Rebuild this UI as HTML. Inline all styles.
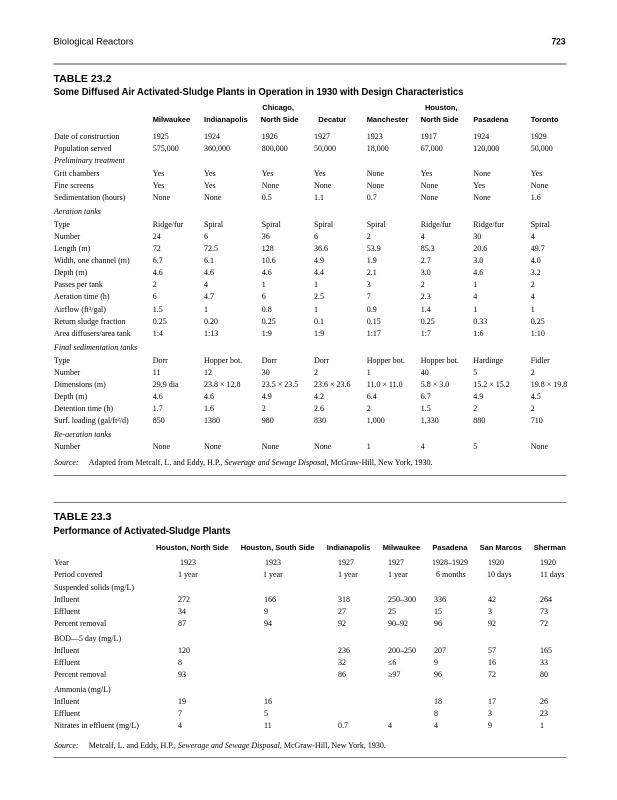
<!DOCTYPE html>
<html>
<head>
<meta charset="utf-8">
<style>
html,body{margin:0;padding:0;background:#fff;}
svg{display:block;}
.s{font-family:"Liberation Serif",serif;font-size:8px;fill:#000;}
.i{font-family:"Liberation Serif",serif;font-size:8px;font-style:italic;fill:#000;}
.h{font-family:"Liberation Sans",sans-serif;font-size:7.5px;font-weight:bold;fill:#000;}
.t{font-family:"Liberation Sans",sans-serif;font-size:10px;font-weight:bold;fill:#000;}
.p{font-family:"Liberation Sans",sans-serif;font-size:9.5px;fill:#000;}
</style>
</head>
<body>
<svg width="617" height="800" viewBox="0 0 617 800" xmlns="http://www.w3.org/2000/svg">
<rect width="617" height="800" fill="#fff"/>
<!-- page header -->
<text class="p" x="53.5" y="44.5" textLength="80" lengthAdjust="spacingAndGlyphs">Biological Reactors</text>
<text class="p" x="551.5" y="44.5" font-weight="bold" textLength="14" lengthAdjust="spacingAndGlyphs">723</text>
<rect x="53.5" y="63" width="513" height="2" fill="#a5a5a5"/>

<!-- TABLE 23.2 -->
<text class="t" x="53.5" y="82" textLength="58" lengthAdjust="spacingAndGlyphs">TABLE 23.2</text>
<text class="t" x="53.5" y="95" textLength="410" lengthAdjust="spacingAndGlyphs">Some Diffused Air Activated-Sludge Plants in Operation in 1930 with Design Characteristics</text>

<text class="h" x="262.3" y="110">Chicago,</text>
<text class="h" x="425" y="110">Houston,</text>
<text class="h" x="152.7" y="122">Milwaukee</text>
<text class="h" x="204" y="122">Indianapolis</text>
<text class="h" x="260.7" y="122">North Side</text>
<text class="h" x="318.3" y="122">Decatur</text>
<text class="h" x="366.7" y="122">Manchester</text>
<text class="h" x="420.7" y="122">North Side</text>
<text class="h" x="473.3" y="122">Pasadena</text>
<text class="h" x="530.7" y="122">Toronto</text>

<g class="s">
<text x="54" y="139">Date of construction</text>
<text x="54" y="151">Population served</text>
<text x="54" y="176">Grit chambers</text>
<text x="54" y="188">Fine screens</text>
<text x="54" y="200">Sedimentation (hours)</text>
<text x="54" y="227">Type</text>
<text x="54" y="239">Number</text>
<text x="54" y="251">Length (m)</text>
<text x="54" y="263">Width, one channel (m)</text>
<text x="54" y="275">Depth (m)</text>
<text x="54" y="287">Passes per tank</text>
<text x="54" y="299">Aeration time (h)</text>
<text x="54" y="312">Airflow (ft³/gal)</text>
<text x="54" y="324">Return sludge fraction</text>
<text x="54" y="336">Area diffusers/area tank</text>
<text x="54" y="363">Type</text>
<text x="54" y="375">Number</text>
<text x="54" y="387">Dimensions (m)</text>
<text x="54" y="399">Depth (m)</text>
<text x="54" y="411">Detention time (h)</text>
<text x="54" y="423">Surf. loading (gal/ft²/d)</text>
<text x="54" y="449">Number</text>
</g>
<g class="i">
<text x="54" y="163">Preliminary treatment</text>
<text x="54" y="214">Aeration tanks</text>
<text x="54" y="350">Final sedimentation tanks</text>
<text x="54" y="437">Re-aeration tanks</text>
</g>

<g class="s">
<text x="152.7" y="139">1925</text><text x="204" y="139">1924</text><text x="261.7" y="139">1926</text><text x="314" y="139">1927</text><text x="366.7" y="139">1923</text><text x="420.7" y="139">1917</text><text x="473.3" y="139">1924</text><text x="530.7" y="139">1929</text>
<text x="152.7" y="151">575,000</text><text x="204" y="151">360,000</text><text x="261.7" y="151">800,000</text><text x="314" y="151">50,000</text><text x="366.7" y="151">18,000</text><text x="420.7" y="151">67,000</text><text x="473.3" y="151">120,000</text><text x="530.7" y="151">50,000</text>
<text x="152.7" y="176">Yes</text><text x="204" y="176">Yes</text><text x="261.7" y="176">Yes</text><text x="314" y="176">Yes</text><text x="366.7" y="176">None</text><text x="420.7" y="176">Yes</text><text x="473.3" y="176">None</text><text x="530.7" y="176">Yes</text>
<text x="152.7" y="188">Yes</text><text x="204" y="188">Yes</text><text x="261.7" y="188">None</text><text x="314" y="188">None</text><text x="366.7" y="188">None</text><text x="420.7" y="188">None</text><text x="473.3" y="188">Yes</text><text x="530.7" y="188">None</text>
<text x="152.7" y="200">None</text><text x="204" y="200">None</text><text x="261.7" y="200">0.5</text><text x="314" y="200">1.1</text><text x="366.7" y="200">0.7</text><text x="420.7" y="200">None</text><text x="473.3" y="200">None</text><text x="530.7" y="200">1.6</text>
<text x="152.7" y="227">Ridge/fur</text><text x="204" y="227">Spiral</text><text x="261.7" y="227">Spiral</text><text x="314" y="227">Spiral</text><text x="366.7" y="227">Spiral</text><text x="420.7" y="227">Ridge/fur</text><text x="473.3" y="227">Ridge/fur</text><text x="530.7" y="227">Spiral</text>
<text x="152.7" y="239">24</text><text x="204" y="239">6</text><text x="261.7" y="239">36</text><text x="314" y="239">6</text><text x="366.7" y="239">2</text><text x="420.7" y="239">4</text><text x="473.3" y="239">30</text><text x="530.7" y="239">4</text>
<text x="152.7" y="251">72</text><text x="204" y="251">72.5</text><text x="261.7" y="251">128</text><text x="314" y="251">36.6</text><text x="366.7" y="251">53.9</text><text x="420.7" y="251">85.3</text><text x="473.3" y="251">20.6</text><text x="530.7" y="251">49.7</text>
<text x="152.7" y="263">6.7</text><text x="204" y="263">6.1</text><text x="261.7" y="263">10.6</text><text x="314" y="263">4.9</text><text x="366.7" y="263">1.9</text><text x="420.7" y="263">2.7</text><text x="473.3" y="263">3.0</text><text x="530.7" y="263">4.0</text>
<text x="152.7" y="275">4.6</text><text x="204" y="275">4.6</text><text x="261.7" y="275">4.6</text><text x="314" y="275">4.4</text><text x="366.7" y="275">2.1</text><text x="420.7" y="275">3.0</text><text x="473.3" y="275">4.6</text><text x="530.7" y="275">3.2</text>
<text x="152.7" y="287">2</text><text x="204" y="287">4</text><text x="261.7" y="287">1</text><text x="314" y="287">1</text><text x="366.7" y="287">3</text><text x="420.7" y="287">2</text><text x="473.3" y="287">1</text><text x="530.7" y="287">2</text>
<text x="152.7" y="299">6</text><text x="204" y="299">4.7</text><text x="261.7" y="299">6</text><text x="314" y="299">2.5</text><text x="366.7" y="299">7</text><text x="420.7" y="299">2.3</text><text x="473.3" y="299">4</text><text x="530.7" y="299">4</text>
<text x="152.7" y="312">1.5</text><text x="204" y="312">1</text><text x="261.7" y="312">0.8</text><text x="314" y="312">1</text><text x="366.7" y="312">0.9</text><text x="420.7" y="312">1.4</text><text x="473.3" y="312">1</text><text x="530.7" y="312">1</text>
<text x="152.7" y="324">0.25</text><text x="204" y="324">0.20</text><text x="261.7" y="324">0.25</text><text x="314" y="324">0.1</text><text x="366.7" y="324">0.15</text><text x="420.7" y="324">0.25</text><text x="473.3" y="324">0.33</text><text x="530.7" y="324">0.25</text>
<text x="152.7" y="336">1:4</text><text x="204" y="336">1:13</text><text x="261.7" y="336">1:9</text><text x="314" y="336">1:9</text><text x="366.7" y="336">1:17</text><text x="420.7" y="336">1:7</text><text x="473.3" y="336">1:6</text><text x="530.7" y="336">1:10</text>
<text x="152.7" y="363">Dorr</text><text x="204" y="363">Hopper bot.</text><text x="261.7" y="363">Dorr</text><text x="314" y="363">Dorr</text><text x="366.7" y="363">Hopper bot.</text><text x="420.7" y="363">Hopper bot.</text><text x="473.3" y="363">Hardinge</text><text x="530.7" y="363">Fidler</text>
<text x="152.7" y="375">11</text><text x="204" y="375">12</text><text x="261.7" y="375">30</text><text x="314" y="375">2</text><text x="366.7" y="375">1</text><text x="420.7" y="375">40</text><text x="473.3" y="375">5</text><text x="530.7" y="375">2</text>
<text x="152.7" y="387">29.9 dia</text><text x="204" y="387">23.8 × 12.8</text><text x="261.7" y="387">23.5 × 23.5</text><text x="314" y="387">23.6 × 23.6</text><text x="366.7" y="387">11.0 × 11.0</text><text x="420.7" y="387">5.8 × 3.0</text><text x="473.3" y="387">15.2 × 15.2</text><text x="530.7" y="387">19.8 × 19.8</text>
<text x="152.7" y="399">4.6</text><text x="204" y="399">4.6</text><text x="261.7" y="399">4.9</text><text x="314" y="399">4.2</text><text x="366.7" y="399">6.4</text><text x="420.7" y="399">6.7</text><text x="473.3" y="399">4.9</text><text x="530.7" y="399">4.5</text>
<text x="152.7" y="411">1.7</text><text x="204" y="411">1.6</text><text x="261.7" y="411">2</text><text x="314" y="411">2.6</text><text x="366.7" y="411">2</text><text x="420.7" y="411">1.5</text><text x="473.3" y="411">2</text><text x="530.7" y="411">2</text>
<text x="152.7" y="423">850</text><text x="204" y="423">1380</text><text x="261.7" y="423">980</text><text x="314" y="423">830</text><text x="366.7" y="423">1,000</text><text x="420.7" y="423">1,330</text><text x="473.3" y="423">880</text><text x="530.7" y="423">710</text>
<text x="152.7" y="449">None</text><text x="204" y="449">None</text><text x="261.7" y="449">None</text><text x="314" y="449">None</text><text x="366.7" y="449">1</text><text x="420.7" y="449">4</text><text x="473.3" y="449">5</text><text x="530.7" y="449">None</text>
</g>

<text class="s" y="465"><tspan x="54" font-style="italic">Source:</tspan><tspan x="88.8">Adapted from Metcalf, L. and Eddy, H.P., </tspan><tspan font-style="italic">Sewerage and Sewage Disposal</tspan><tspan>, McGraw-Hill, New York, 1930.</tspan></text>
<rect x="53.5" y="475" width="513" height="1" fill="#7a7a7a"/>
<rect x="53.5" y="502" width="513" height="1" fill="#7a7a7a"/>

<!-- TABLE 23.3 -->
<text class="t" x="53.5" y="520" textLength="58" lengthAdjust="spacingAndGlyphs">TABLE 23.3</text>
<text class="t" x="53.5" y="534" textLength="177" lengthAdjust="spacingAndGlyphs">Performance of Activated-Sludge Plants</text>

<text class="h" x="156" y="550">Houston, North Side</text>
<text class="h" x="240.7" y="550">Houston, South Side</text>
<text class="h" x="326.7" y="550">Indianapolis</text>
<text class="h" x="382.7" y="550">Milwaukee</text>
<text class="h" x="432.4" y="550">Pasadena</text>
<text class="h" x="479.6" y="550">San Marcos</text>
<text class="h" x="533.8" y="550">Sherman</text>

<g class="s">
<text x="54" y="565">Year</text>
<text x="54" y="577">Period covered</text>
<text x="54" y="590">Suspended solids (mg/L)</text>
<text x="54" y="602">Influent</text>
<text x="54" y="614">Effluent</text>
<text x="54" y="626">Percent removal</text>
<text x="54" y="641">BOD—5 day (mg/L)</text>
<text x="54" y="653">Influent</text>
<text x="54" y="665">Effluent</text>
<text x="54" y="677">Percent removal</text>
<text x="54" y="692">Ammonia (mg/L)</text>
<text x="54" y="704">Influent</text>
<text x="54" y="716">Effluent</text>
<text x="54" y="728">Nitrates in effluent (mg/L)</text>

<text x="180" y="565">1923</text><text x="265" y="565">1923</text><text x="338" y="565">1927</text><text x="388" y="565">1927</text><text x="432" y="565">1928–1929</text><text x="488" y="565">1920</text><text x="540" y="565">1920</text>
<text x="178" y="577">1 year</text><text x="263" y="577">1 year</text><text x="338" y="577">1 year</text><text x="388" y="577">1 year</text><text x="436" y="577">6 months</text><text x="487" y="577">10 days</text><text x="540" y="577">11 days</text>
<text x="178" y="602">272</text><text x="264" y="602">166</text><text x="338" y="602">318</text><text x="388" y="602">250–300</text><text x="434" y="602">336</text><text x="488" y="602">42</text><text x="540" y="602">264</text>
<text x="178" y="614">34</text><text x="264" y="614">9</text><text x="338" y="614">27</text><text x="388" y="614">25</text><text x="434" y="614">15</text><text x="488" y="614">3</text><text x="540" y="614">73</text>
<text x="178" y="626">87</text><text x="264" y="626">94</text><text x="338" y="626">92</text><text x="388" y="626">90–92</text><text x="434" y="626">96</text><text x="488" y="626">92</text><text x="540" y="626">72</text>
<text x="178" y="653">120</text><text x="338" y="653">236</text><text x="388" y="653">200–250</text><text x="434" y="653">207</text><text x="488" y="653">57</text><text x="540" y="653">165</text>
<text x="178" y="665">8</text><text x="338" y="665">32</text><text x="388" y="665">≤6</text><text x="434" y="665">9</text><text x="488" y="665">16</text><text x="540" y="665">33</text>
<text x="178" y="677">93</text><text x="338" y="677">86</text><text x="388" y="677">≥97</text><text x="434" y="677">96</text><text x="488" y="677">72</text><text x="540" y="677">80</text>
<text x="178" y="704">19</text><text x="264" y="704">16</text><text x="434" y="704">18</text><text x="488" y="704">17</text><text x="540" y="704">26</text>
<text x="178" y="716">7</text><text x="264" y="716">5</text><text x="434" y="716">8</text><text x="488" y="716">3</text><text x="540" y="716">23</text>
<text x="178" y="728">4</text><text x="264" y="728">11</text><text x="338" y="728">0.7</text><text x="388" y="728">4</text><text x="434" y="728">4</text><text x="488" y="728">9</text><text x="540" y="728">1</text>
</g>

<text class="s" y="748"><tspan x="54" font-style="italic">Source:</tspan><tspan x="88.8">Metcalf, L. and Eddy, H.P., </tspan><tspan font-style="italic">Sewerage and Sewage Disposal</tspan><tspan>, McGraw-Hill, New York, 1930.</tspan></text>
<rect x="53.5" y="757" width="513" height="1" fill="#7a7a7a"/>
</svg>
</body>
</html>
